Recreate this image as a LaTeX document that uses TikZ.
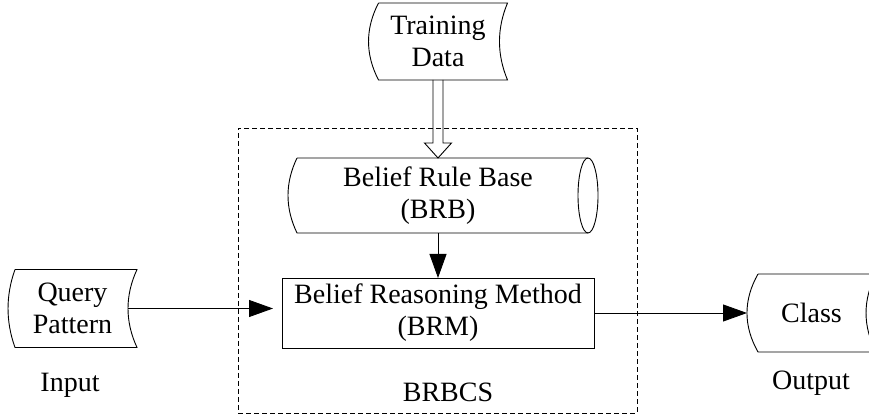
\documentclass[tikz,border=0pt]{standalone}
\usepackage{fontspec}
\setmainfont{Liberation Serif}
\usetikzlibrary{arrows.meta}

\begin{document}
\begin{tikzpicture}[x=1pt, y=1pt, line width=0.9pt,
        every node/.style={font=\fontsize{28}{32}\selectfont, align=center, inner sep=0pt, outer sep=0pt},
        arr/.style={-{Triangle[length=24pt, width=17pt]}}]
        \useasboundingbox (0, 0) rectangle (869, 417);
        % Frame
        \node [draw, dash pattern=on 5pt off 3pt, minimum width=399pt, minimum height=285pt] (brbcs) at (437.5, 146.5) {};
        % Blocks
        \node [minimum width=139pt, minimum height=77pt] (td) at (438, 375.5) {Training\\Data};
        \node [minimum width=300pt, minimum height=75pt] (brb) at (438, 221.5) {Belief Rule Base\\(BRB)};
        \node [draw, minimum width=312pt, minimum height=70pt] (brm) at (438, 104) {Belief Reasoning Method\\(BRM)};
        \node [minimum width=129pt, minimum height=78pt] (qp) at (72.5, 108.5) {Query\\Pattern};
        \node [minimum width=129pt, minimum height=78pt] (cls) at (811.5, 104) {Class};
        % Outlines
        \draw ([xshift=10]td.north west) -- (td.north east) .. controls +(-10.7, -25.7) and +(-10.7, 25.7) .. (td.south east)
            -- ([xshift=10]td.south west) .. controls +(-13.3, 25.7) and +(-13.3, -25.7) .. ([xshift=10]td.north west);
        \draw ([xshift=7]qp.north west) -- (qp.north east) .. controls +(-12, -26) and +(-12, 26) .. (qp.south east)
            -- ([xshift=7]qp.south west) .. controls +(-9.3, 26) and +(-9.3, -26) .. ([xshift=7]qp.north west);
        \draw ([xshift=11]cls.north west) -- (cls.north east) .. controls +(-13.3, -26) and +(-13.3, 26) .. (cls.south east)
            -- ([xshift=11]cls.south west) .. controls +(-14.7, 26) and +(-14.7, -26) .. ([xshift=11]cls.north west);
        \draw ([xshift=9]brb.north west) -- (brb.north east) (brb.south east) -- ([xshift=9]brb.south west)
            .. controls +(-12, 25) and +(-12, -25) .. ([xshift=9]brb.north west);
        \draw (brb.east) ellipse [x radius=10, y radius=37.5];
        % Arrows
        \draw [line join=miter] ([xshift=-5]td.south) -- ([xshift=-5, yshift=15]brb.north) -- ([xshift=-13.5, yshift=15]brb.north)
            -- (brb.north) -- ([xshift=13.5, yshift=15]brb.north) -- ([xshift=5, yshift=15]brb.north) -- ([xshift=5]td.south);
        \draw [arr] (brb.south) -- (brm.north);
        \draw [arr] ([xshift=-9]qp.east) -- ([xshift=-9]qp.east -| brm.west);
        \draw [arr] (brm.east) -- (cls.west);
        % Labels
        \node [anchor=base] (inlbl) at (70, 25) {Input};
        \node [anchor=base] (outlbl) at (811, 27) {Output};
        \node [anchor=base] (syslbl) at (448, 15) {BRBCS};
    \end{tikzpicture}
\end{document}
